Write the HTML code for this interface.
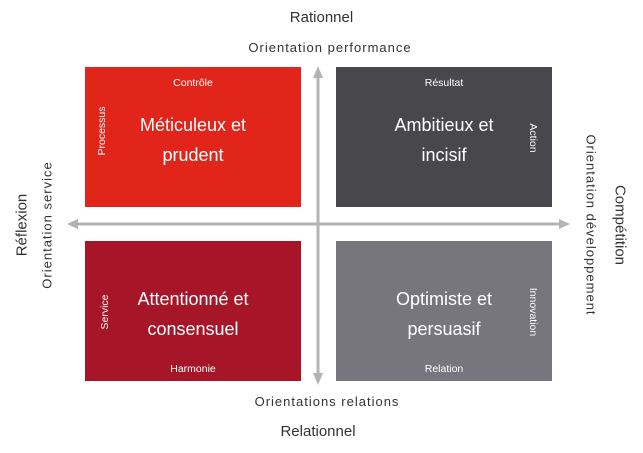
<!DOCTYPE html>
<html><head><meta charset="utf-8"><style>
body{margin:0;width:643px;height:453px;background:#fff;position:relative;overflow:hidden;font-family:"Liberation Sans",sans-serif}
.a{position:absolute;white-space:nowrap}
.box{position:absolute;width:216px;height:140px}
.t{position:absolute;color:#fff;text-align:center;white-space:nowrap}
.big{font-size:18px;line-height:30px;width:216px;left:0}
.sm{font-size:10.5px}
.rot{transform:translate(-50%,-50%) rotate(-90deg)}
.rotr{transform:translate(-50%,-50%) rotate(90deg)}
.g{color:#333}
</style></head><body>
<div class="a g" style="left:0;width:643px;text-align:center;top:9px;font-size:15px">Rationnel</div>
<div class="a g" style="left:0;width:660px;text-align:center;top:40px;font-size:13px;letter-spacing:1px">Orientation performance</div>
<div class="a g" style="left:0;width:654px;text-align:center;top:394px;font-size:13px;letter-spacing:1px">Orientations relations</div>
<div class="a g" style="left:0;width:636px;text-align:center;top:423px;font-size:15px">Relationnel</div>
<div class="a g rot" style="left:22px;top:225px;font-size:15px">Réflexion</div>
<div class="a g rot" style="left:47px;top:225px;font-size:13px;letter-spacing:1px">Orientation service</div>
<div class="a g rotr" style="left:620px;top:225px;font-size:15px">Compétition</div>
<div class="a g rotr" style="left:591px;top:225px;font-size:13px;letter-spacing:1px">Orientation développement</div>

<div class="box" style="left:85px;top:67px;background:#e2251b">
<div class="t sm" style="left:0;width:216px;top:10px">Contrôle</div>
<div class="t sm rot" style="left:17px;top:64px">Processus</div>
<div class="t big" style="top:43px">Méticuleux et<br>prudent</div></div>
<div class="box" style="left:336px;top:67px;background:#48474c">
<div class="t sm" style="left:0;width:216px;top:10px">Résultat</div>
<div class="t sm rotr" style="left:197px;top:71px">Action</div>
<div class="t big" style="top:43px">Ambitieux et<br>incisif</div></div>
<div class="box" style="left:85px;top:241px;background:#a61628">
<div class="t sm" style="left:0;width:216px;top:122px">Harmonie</div>
<div class="t sm rot" style="left:20px;top:71px">Service</div>
<div class="t big" style="top:43px">Attentionné et<br>consensuel</div></div>
<div class="box" style="left:336px;top:241px;background:#77757e">
<div class="t sm" style="left:0;width:216px;top:122px">Relation</div>
<div class="t sm rotr" style="left:197px;top:71px">Innovation</div>
<div class="t big" style="top:43px">Optimiste et<br>persuasif</div></div>

<svg class="a" style="left:0;top:0" width="643" height="453">
<g stroke="#b3b3b3" stroke-width="3" fill="#b3b3b3">
<line x1="76" y1="224" x2="562" y2="224"/>
<line x1="318" y1="76" x2="318" y2="376"/>
</g>
<g fill="#b3b3b3">
<polygon points="67,224 78,219 78,229"/>
<polygon points="570,224 559,219 559,229"/>
<polygon points="318,66 313,78 323,78"/>
<polygon points="318,385 313,373 323,373"/>
</g>
</svg>
</body></html>
